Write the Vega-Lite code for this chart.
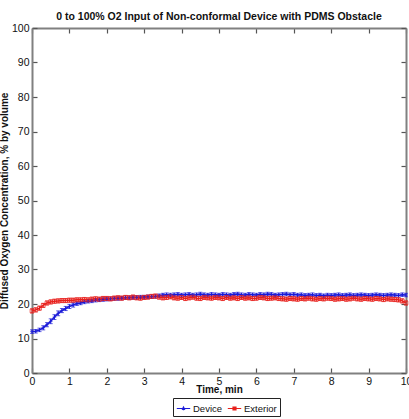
{
  "$schema": "https://vega.github.io/schema/vega-lite/v6.json",
  "width": 374,
  "height": 345,
  "autosize": "none",
  "padding": {"left": 32, "top": 28, "right": 3, "bottom": 46},
  "title": {"text": "0 to 100% O2 Input of Non-conformal Device with PDMS Obstacle", "fontSize": 10.5, "font": "Liberation Sans", "fontWeight": "bold", "offset": 1, "color": "#111"},
  "config": {
    "font": "Liberation Sans",
    "view": {"stroke": null},
    "axis": {"domainColor": "#808080", "domainWidth": 2, "tickColor": "#555", "tickSize": -5, "tickWidth": 1.2, "grid": false, "labelFont": "Liberation Sans", "labelFontSize": 10.5, "labelColor": "#111", "titleFont": "Liberation Sans", "titleFontWeight": "bold", "titleColor": "#111"}
  },
  "data": {"values": [
    {"t":0.0,"s":"Device","v":12.0,"e":0.5},{"t":0.1,"s":"Device","v":12.1,"e":0.5},{"t":0.2,"s":"Device","v":12.5,"e":0.5},{"t":0.3,"s":"Device","v":13.1,"e":0.6},{"t":0.4,"s":"Device","v":14.0,"e":0.6},{"t":0.5,"s":"Device","v":15.0,"e":0.7},{"t":0.6,"s":"Device","v":16.2,"e":0.7},{"t":0.7,"s":"Device","v":17.3,"e":0.7},{"t":0.8,"s":"Device","v":18.1,"e":0.6},{"t":0.9,"s":"Device","v":18.7,"e":0.6},
    {"t":1.0,"s":"Device","v":19.3,"e":0.6},{"t":1.1,"s":"Device","v":19.7,"e":0.6},{"t":1.2,"s":"Device","v":20.1,"e":0.5},{"t":1.3,"s":"Device","v":20.3,"e":0.5},{"t":1.4,"s":"Device","v":20.6,"e":0.5},{"t":1.5,"s":"Device","v":20.8,"e":0.5},{"t":1.6,"s":"Device","v":20.9,"e":0.5},{"t":1.7,"s":"Device","v":21.1,"e":0.5},{"t":1.8,"s":"Device","v":21.2,"e":0.5},{"t":1.9,"s":"Device","v":21.3,"e":0.5},
    {"t":2.0,"s":"Device","v":21.4,"e":0.5},{"t":2.1,"s":"Device","v":21.5,"e":0.5},{"t":2.2,"s":"Device","v":21.6,"e":0.5},{"t":2.3,"s":"Device","v":21.6,"e":0.5},{"t":2.4,"s":"Device","v":21.7,"e":0.5},{"t":2.5,"s":"Device","v":21.8,"e":0.5},{"t":2.6,"s":"Device","v":21.8,"e":0.5},{"t":2.7,"s":"Device","v":21.9,"e":0.5},{"t":2.8,"s":"Device","v":21.9,"e":0.5},{"t":2.9,"s":"Device","v":22.0,"e":0.5},
    {"t":3.0,"s":"Device","v":22.0,"e":0.5},{"t":3.1,"s":"Device","v":22.1,"e":0.5},{"t":3.2,"s":"Device","v":22.1,"e":0.5},{"t":3.3,"s":"Device","v":22.2,"e":0.5},{"t":3.4,"s":"Device","v":22.4,"e":0.5},{"t":3.5,"s":"Device","v":22.6,"e":0.5},{"t":3.6,"s":"Device","v":22.7,"e":0.5},{"t":3.7,"s":"Device","v":22.6,"e":0.5},{"t":3.8,"s":"Device","v":22.7,"e":0.5},{"t":3.9,"s":"Device","v":22.8,"e":0.5},
    {"t":4.0,"s":"Device","v":22.6,"e":0.5},{"t":4.1,"s":"Device","v":22.7,"e":0.5},{"t":4.2,"s":"Device","v":22.8,"e":0.5},{"t":4.3,"s":"Device","v":22.6,"e":0.5},{"t":4.4,"s":"Device","v":22.7,"e":0.5},{"t":4.5,"s":"Device","v":22.9,"e":0.5},{"t":4.6,"s":"Device","v":22.7,"e":0.5},{"t":4.7,"s":"Device","v":22.6,"e":0.5},{"t":4.8,"s":"Device","v":22.8,"e":0.5},{"t":4.9,"s":"Device","v":22.7,"e":0.5},
    {"t":5.0,"s":"Device","v":22.6,"e":0.5},{"t":5.1,"s":"Device","v":22.8,"e":0.5},{"t":5.2,"s":"Device","v":22.7,"e":0.5},{"t":5.3,"s":"Device","v":22.6,"e":0.5},{"t":5.4,"s":"Device","v":22.8,"e":0.5},{"t":5.5,"s":"Device","v":22.9,"e":0.5},{"t":5.6,"s":"Device","v":22.7,"e":0.5},{"t":5.7,"s":"Device","v":22.6,"e":0.5},{"t":5.8,"s":"Device","v":22.8,"e":0.5},{"t":5.9,"s":"Device","v":22.7,"e":0.5},
    {"t":6.0,"s":"Device","v":22.6,"e":0.5},{"t":6.1,"s":"Device","v":22.8,"e":0.5},{"t":6.2,"s":"Device","v":22.7,"e":0.5},{"t":6.3,"s":"Device","v":22.9,"e":0.5},{"t":6.4,"s":"Device","v":22.8,"e":0.5},{"t":6.5,"s":"Device","v":22.6,"e":0.5},{"t":6.6,"s":"Device","v":22.7,"e":0.5},{"t":6.7,"s":"Device","v":22.8,"e":0.5},{"t":6.8,"s":"Device","v":22.9,"e":0.5},{"t":6.9,"s":"Device","v":22.7,"e":0.5},
    {"t":7.0,"s":"Device","v":22.8,"e":0.5},{"t":7.1,"s":"Device","v":22.6,"e":0.5},{"t":7.2,"s":"Device","v":22.7,"e":0.5},{"t":7.3,"s":"Device","v":22.5,"e":0.5},{"t":7.4,"s":"Device","v":22.6,"e":0.5},{"t":7.5,"s":"Device","v":22.7,"e":0.5},{"t":7.6,"s":"Device","v":22.5,"e":0.5},{"t":7.7,"s":"Device","v":22.6,"e":0.5},{"t":7.8,"s":"Device","v":22.4,"e":0.5},{"t":7.9,"s":"Device","v":22.6,"e":0.5},
    {"t":8.0,"s":"Device","v":22.5,"e":0.5},{"t":8.1,"s":"Device","v":22.6,"e":0.5},{"t":8.2,"s":"Device","v":22.7,"e":0.5},{"t":8.3,"s":"Device","v":22.5,"e":0.5},{"t":8.4,"s":"Device","v":22.6,"e":0.5},{"t":8.5,"s":"Device","v":22.7,"e":0.5},{"t":8.6,"s":"Device","v":22.5,"e":0.5},{"t":8.7,"s":"Device","v":22.6,"e":0.5},{"t":8.8,"s":"Device","v":22.7,"e":0.5},{"t":8.9,"s":"Device","v":22.6,"e":0.5},
    {"t":9.0,"s":"Device","v":22.5,"e":0.5},{"t":9.1,"s":"Device","v":22.6,"e":0.5},{"t":9.2,"s":"Device","v":22.7,"e":0.5},{"t":9.3,"s":"Device","v":22.6,"e":0.5},{"t":9.4,"s":"Device","v":22.5,"e":0.5},{"t":9.5,"s":"Device","v":22.6,"e":0.5},{"t":9.6,"s":"Device","v":22.7,"e":0.5},{"t":9.7,"s":"Device","v":22.6,"e":0.5},{"t":9.8,"s":"Device","v":22.5,"e":0.5},{"t":9.9,"s":"Device","v":22.7,"e":0.5},{"t":10.0,"s":"Device","v":22.6,"e":0.5},
    {"t":0.0,"s":"Exterior","v":18.0,"e":0.6},{"t":0.1,"s":"Exterior","v":18.3,"e":0.6},{"t":0.2,"s":"Exterior","v":18.8,"e":0.6},{"t":0.3,"s":"Exterior","v":19.6,"e":0.6},{"t":0.4,"s":"Exterior","v":20.3,"e":0.6},{"t":0.5,"s":"Exterior","v":20.6,"e":0.6},{"t":0.6,"s":"Exterior","v":20.8,"e":0.6},{"t":0.7,"s":"Exterior","v":20.9,"e":0.6},{"t":0.8,"s":"Exterior","v":21.0,"e":0.6},{"t":0.9,"s":"Exterior","v":21.0,"e":0.6},
    {"t":1.0,"s":"Exterior","v":21.1,"e":0.6},{"t":1.1,"s":"Exterior","v":21.1,"e":0.6},{"t":1.2,"s":"Exterior","v":21.2,"e":0.6},{"t":1.3,"s":"Exterior","v":21.2,"e":0.6},{"t":1.4,"s":"Exterior","v":21.3,"e":0.6},{"t":1.5,"s":"Exterior","v":21.2,"e":0.6},{"t":1.6,"s":"Exterior","v":21.4,"e":0.6},{"t":1.7,"s":"Exterior","v":21.5,"e":0.6},{"t":1.8,"s":"Exterior","v":21.4,"e":0.6},{"t":1.9,"s":"Exterior","v":21.6,"e":0.6},
    {"t":2.0,"s":"Exterior","v":21.6,"e":0.6},{"t":2.1,"s":"Exterior","v":21.5,"e":0.6},{"t":2.2,"s":"Exterior","v":21.7,"e":0.6},{"t":2.3,"s":"Exterior","v":21.8,"e":0.6},{"t":2.4,"s":"Exterior","v":21.7,"e":0.6},{"t":2.5,"s":"Exterior","v":21.9,"e":0.6},{"t":2.6,"s":"Exterior","v":21.8,"e":0.6},{"t":2.7,"s":"Exterior","v":22.0,"e":0.6},{"t":2.8,"s":"Exterior","v":21.8,"e":0.6},{"t":2.9,"s":"Exterior","v":21.7,"e":0.6},
    {"t":3.0,"s":"Exterior","v":21.9,"e":0.6},{"t":3.1,"s":"Exterior","v":22.0,"e":0.6},{"t":3.2,"s":"Exterior","v":22.2,"e":0.6},{"t":3.3,"s":"Exterior","v":22.3,"e":0.6},{"t":3.4,"s":"Exterior","v":22.0,"e":0.6},{"t":3.5,"s":"Exterior","v":21.8,"e":0.6},{"t":3.6,"s":"Exterior","v":21.9,"e":0.6},{"t":3.7,"s":"Exterior","v":22.1,"e":0.6},{"t":3.8,"s":"Exterior","v":21.8,"e":0.6},{"t":3.9,"s":"Exterior","v":21.7,"e":0.6},
    {"t":4.0,"s":"Exterior","v":21.9,"e":0.6},{"t":4.1,"s":"Exterior","v":21.6,"e":0.6},{"t":4.2,"s":"Exterior","v":21.8,"e":0.6},{"t":4.3,"s":"Exterior","v":22.0,"e":0.6},{"t":4.4,"s":"Exterior","v":21.7,"e":0.6},{"t":4.5,"s":"Exterior","v":21.6,"e":0.6},{"t":4.6,"s":"Exterior","v":21.9,"e":0.6},{"t":4.7,"s":"Exterior","v":21.8,"e":0.6},{"t":4.8,"s":"Exterior","v":21.7,"e":0.6},{"t":4.9,"s":"Exterior","v":21.9,"e":0.6},
    {"t":5.0,"s":"Exterior","v":21.8,"e":0.6},{"t":5.1,"s":"Exterior","v":21.6,"e":0.6},{"t":5.2,"s":"Exterior","v":21.9,"e":0.6},{"t":5.3,"s":"Exterior","v":21.7,"e":0.6},{"t":5.4,"s":"Exterior","v":21.8,"e":0.6},{"t":5.5,"s":"Exterior","v":21.6,"e":0.6},{"t":5.6,"s":"Exterior","v":21.9,"e":0.6},{"t":5.7,"s":"Exterior","v":21.7,"e":0.6},{"t":5.8,"s":"Exterior","v":21.8,"e":0.6},{"t":5.9,"s":"Exterior","v":21.6,"e":0.6},
    {"t":6.0,"s":"Exterior","v":21.7,"e":0.6},{"t":6.1,"s":"Exterior","v":21.9,"e":0.6},{"t":6.2,"s":"Exterior","v":21.8,"e":0.6},{"t":6.3,"s":"Exterior","v":21.6,"e":0.6},{"t":6.4,"s":"Exterior","v":21.7,"e":0.6},{"t":6.5,"s":"Exterior","v":21.8,"e":0.6},{"t":6.6,"s":"Exterior","v":21.6,"e":0.6},{"t":6.7,"s":"Exterior","v":21.5,"e":0.6},{"t":6.8,"s":"Exterior","v":21.4,"e":0.6},{"t":6.9,"s":"Exterior","v":21.6,"e":0.6},
    {"t":7.0,"s":"Exterior","v":21.5,"e":0.6},{"t":7.1,"s":"Exterior","v":21.4,"e":0.6},{"t":7.2,"s":"Exterior","v":21.6,"e":0.6},{"t":7.3,"s":"Exterior","v":21.5,"e":0.6},{"t":7.4,"s":"Exterior","v":21.7,"e":0.6},{"t":7.5,"s":"Exterior","v":21.5,"e":0.6},{"t":7.6,"s":"Exterior","v":21.4,"e":0.6},{"t":7.7,"s":"Exterior","v":21.6,"e":0.6},{"t":7.8,"s":"Exterior","v":21.5,"e":0.6},{"t":7.9,"s":"Exterior","v":21.7,"e":0.6},
    {"t":8.0,"s":"Exterior","v":21.6,"e":0.6},{"t":8.1,"s":"Exterior","v":21.4,"e":0.6},{"t":8.2,"s":"Exterior","v":21.5,"e":0.6},{"t":8.3,"s":"Exterior","v":21.6,"e":0.6},{"t":8.4,"s":"Exterior","v":21.4,"e":0.6},{"t":8.5,"s":"Exterior","v":21.5,"e":0.6},{"t":8.6,"s":"Exterior","v":21.7,"e":0.6},{"t":8.7,"s":"Exterior","v":21.5,"e":0.6},{"t":8.8,"s":"Exterior","v":21.4,"e":0.6},{"t":8.9,"s":"Exterior","v":21.6,"e":0.6},
    {"t":9.0,"s":"Exterior","v":21.5,"e":0.6},{"t":9.1,"s":"Exterior","v":21.4,"e":0.6},{"t":9.2,"s":"Exterior","v":21.6,"e":0.6},{"t":9.3,"s":"Exterior","v":21.5,"e":0.6},{"t":9.4,"s":"Exterior","v":21.3,"e":0.6},{"t":9.5,"s":"Exterior","v":21.5,"e":0.6},{"t":9.6,"s":"Exterior","v":21.4,"e":0.6},{"t":9.7,"s":"Exterior","v":21.3,"e":0.6},{"t":9.8,"s":"Exterior","v":21.2,"e":0.6},{"t":9.9,"s":"Exterior","v":20.9,"e":0.6},{"t":10.0,"s":"Exterior","v":20.3,"e":0.6}
  ]},
  "resolve": {"axis": {"x": "independent", "y": "independent"}},
  "layer": [
    {
      "mark": {"type": "errorbar", "ticks": {"size": 4}, "thickness": 1},
      "encoding": {
        "x": {"field": "t", "type": "quantitative", "scale": {"domain": [0, 10], "nice": false}, "axis": {"values": [0,1,2,3,4,5,6,7,8,9,10], "title": "Time, min", "titleFontSize": 10, "titlePadding": -2, "labelPadding": 8, "labelFlush": false}},
        "y": {"field": "v", "type": "quantitative", "scale": {"domain": [0, 100], "nice": false}, "axis": {"values": [0,10,20,30,40,50,60,70,80,90,100], "title": "Diffused Oxygen Concentration, % by volume", "titleFontSize": 10, "titlePadding": 2, "labelPadding": 8}},
        "yError": {"field": "e"},
        "color": {"field": "s", "type": "nominal", "scale": {"domain": ["Device", "Exterior"], "range": ["#1a1ad8", "#e8201c"]}, "legend": {"title": null, "orient": "none", "legendX": 141, "legendY": 370, "direction": "horizontal", "strokeColor": "#222", "padding": 3, "symbolType": "M-1,0H1", "symbolSize": 180, "symbolStrokeWidth": 1.2, "symbolFillColor": "transparent", "labelFontSize": 9.5, "labelColor": "#111", "columnPadding": 2, "labelOffset": 2,
          "encode": {"symbols": {"update": {"shape": {"signal": "datum.value === 'Device' ? 'M-1,0H1M0,-0.25V0.25M-0.2,0.2L0,-0.2L0.2,0.2' : 'M-1,0H1M-0.22,-0.22H0.22V0.22H-0.22Z'"}, "fill": {"value": "transparent"}}}}}}
      }
    },
    {
      "mark": {"type": "line", "strokeWidth": 1.5},
      "encoding": {
        "x": {"field": "t", "type": "quantitative", "axis": null},
        "y": {"field": "v", "type": "quantitative", "axis": null},
        "color": {"field": "s", "type": "nominal"}
      }
    },
    {
      "transform": [{"filter": "datum.s === 'Device'"}],
      "mark": {"type": "point", "filled": false, "size": 14, "strokeWidth": 1, "shape": "M-1,0L1,0M0,-1L0,1"},
      "encoding": {
        "x": {"field": "t", "type": "quantitative", "axis": null},
        "y": {"field": "v", "type": "quantitative", "axis": null},
        "color": {"field": "s", "type": "nominal"}
      }
    },
    {
      "transform": [{"filter": "datum.s === 'Exterior'"}],
      "mark": {"type": "point", "filled": false, "size": 14, "strokeWidth": 1, "shape": "square"},
      "encoding": {
        "x": {"field": "t", "type": "quantitative", "axis": null},
        "y": {"field": "v", "type": "quantitative", "axis": null},
        "color": {"field": "s", "type": "nominal"}
      }
    },
    {
      "mark": {"type": "point", "opacity": 0},
      "encoding": {
        "x": {"field": "t", "type": "quantitative", "axis": {"orient": "top", "values": [0,1,2,3,4,5,6,7,8,9,10], "labels": false, "title": null}},
        "y": {"field": "v", "type": "quantitative", "axis": {"orient": "right", "values": [0,10,20,30,40,50,60,70,80,90,100], "labels": false, "title": null}}
      }
    }
  ]
}
